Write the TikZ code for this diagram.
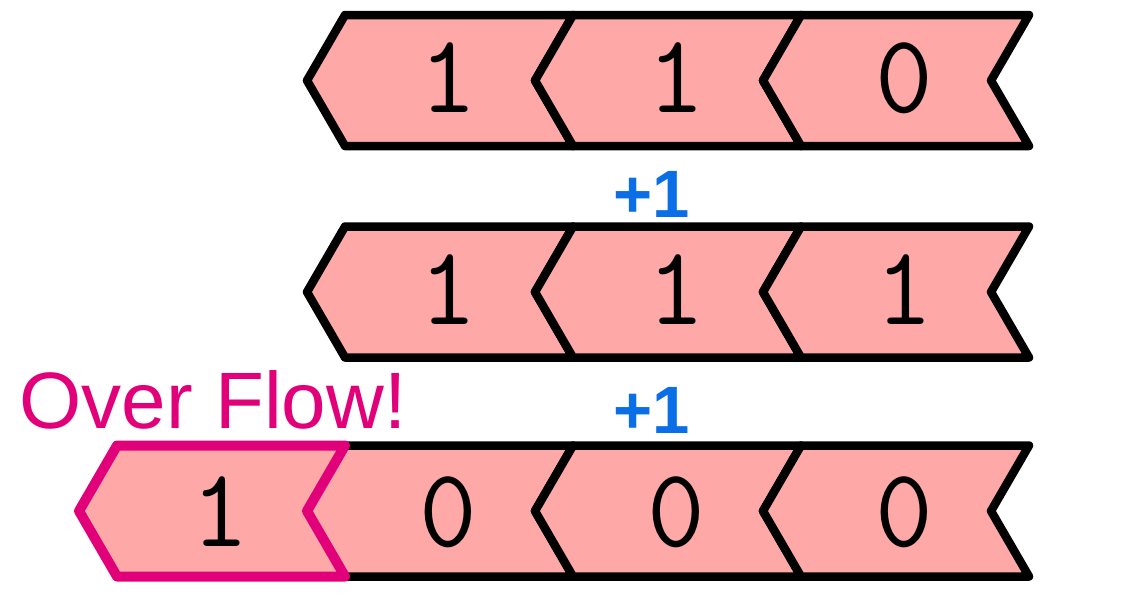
\documentclass[tikz,border=0pt]{standalone}
\usepackage{fontspec}
\newfontfamily\labelfont{Liberation Sans}
\definecolor{cellpink}{RGB}{255,168,168}
\definecolor{overmag}{RGB}{226,0,122}
\definecolor{plusblue}{RGB}{10,110,230}
\begin{document}
\begin{tikzpicture}[
  x=1pt, y=-1pt,
  cell/.style={draw=black, line width=8.5pt, line join=round, fill=cellpink},
  overcell/.style={cell, draw=overmag, line width=10pt},
  digit/.style={font=\ttfamily\fontsize{112}{112}\selectfont},
  plusone/.style={font=\labelfont\bfseries\fontsize{67}{67}\selectfont, text=plusblue, anchor=base},
  warn/.style={font=\labelfont\fontsize{80}{80}\selectfont, text=overmag, anchor=base},
]
  \useasboundingbox (0,0) rectangle (1132,600);
  % chevron cells, rows centred at 80, 292, 511
  \foreach \yc in {80.5,292,511}
    \foreach \xl in {345,573,801}
      \draw[cell] (\xl,\yc-65.5) -- (\xl+228,\yc-65.5) -- (\xl+190,\yc)
        -- (\xl+228,\yc+65.5) -- (\xl,\yc+65.5) -- (\xl-38,\yc) -- cycle;
  % carried-out cell
  \draw[overcell] (117,445.5) -- (345,445.5) -- (307,511) -- (345,576.5)
    -- (117,576.5) -- (79,511) -- cycle;

  \foreach \b [count=\c] in {1,1,0}
    \node[digit] (a\c) at (220+228*\c, 78) {\b};
  \foreach \b [count=\c] in {1,1,1}
    \node[digit] (b\c) at (220+228*\c, 290) {\b};
  \foreach \b [count=\c from 0] in {1,0,0,0}
    \node[digit] (s\c) at (220+228*\c, 512) {\b};

  \node[plusone] (inc1) at (652, 217) {+1};
  \node[plusone] (inc2) at (652, 433) {+1};
  \node[warn] (ovf) at (213, 428) {Over Flow!};
\end{tikzpicture}
\end{document}
